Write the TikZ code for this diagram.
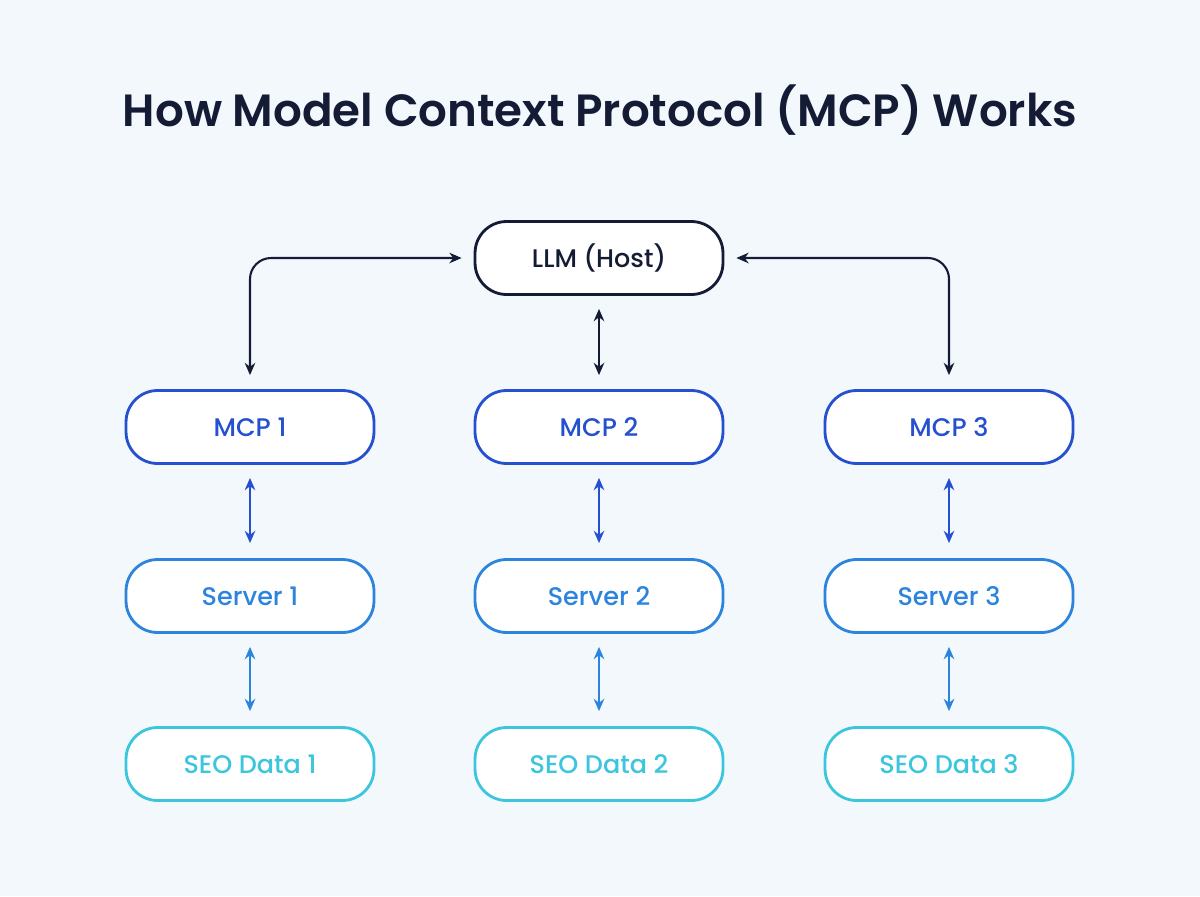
\documentclass[tikz,border=0pt]{standalone}
\usepackage{fontspec}
\setmainfont{Poppins}
\newfontfamily\pmed{Poppins}[UprightFont=*-Medium]
\newfontfamily\psemi{Poppins}[UprightFont=*-SemiBold]
\usetikzlibrary{arrows.meta}
\definecolor{bg}{HTML}{F3F8FD}
\definecolor{ink}{HTML}{141B34}
\definecolor{cmcp}{HTML}{2550CF}
\definecolor{csrv}{HTML}{2C84DC}
\definecolor{cseo}{HTML}{3CC6DE}
\begin{document}
\begin{tikzpicture}[x=0.02cm,y=-0.02cm,
 box/.style={draw=#1,text=#1,fill=white,line width=1.6pt,rounded corners=18pt,minimum width=4.96cm,minimum height=1.46cm,font=\pmed\fontsize{14.5}{16}\selectfont},
 arr/.style={draw=#1,line width=1.2pt,{Stealth[length=7pt,width=6pt]}-{Stealth[length=7pt,width=6pt]}}]
\fill[bg] (0,0) rectangle (1200,896);
\node[text=ink,font=\psemi\fontsize{25.7}{30}\selectfont] (title) at (600,110) {How Model Context Protocol (MCP) Works};
\node[box=ink] (llm) at (599,258) {LLM (Host)};
\foreach \i/\x in {1/250,2/599,3/949}{
 \node[box=cmcp] (m\i) at (\x,427) {MCP \i};
 \node[box=csrv] (s\i) at (\x,596) {Server \i};
 \node[box=cseo] (d\i) at (\x,764) {SEO Data \i};
 \draw[arr=cmcp] ([yshift=-0.26cm]m\i.south) -- ([yshift=0.3cm]s\i.north);
 \draw[arr=csrv] ([yshift=-0.26cm]s\i.south) -- ([yshift=0.3cm]d\i.north);
}
\draw[arr=ink] ([yshift=-0.26cm]llm.south) -- ([yshift=0.28cm]m2.north);
\draw[arr=ink,rounded corners=12pt] ([xshift=-0.24cm]llm.west) -| ([yshift=0.28cm]m1.north);
\draw[arr=ink,rounded corners=12pt] ([xshift=0.24cm]llm.east) -| ([yshift=0.28cm]m3.north);
\end{tikzpicture}
\end{document}
